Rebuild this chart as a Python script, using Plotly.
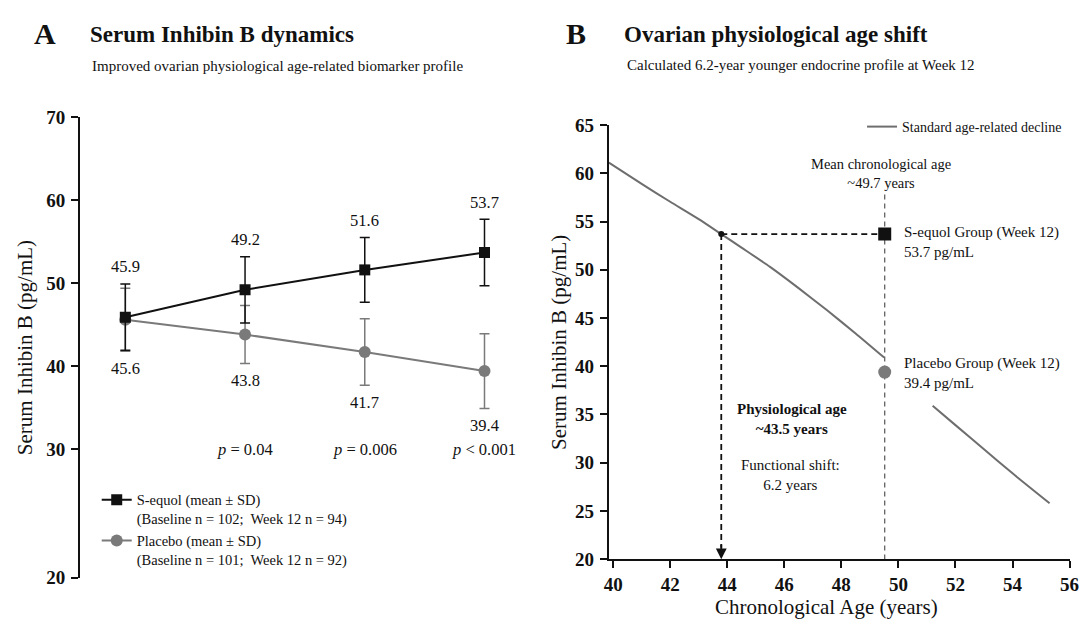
import plotly.graph_objects as go

W, H = 1091, 635
FONT = "Liberation Serif, Times New Roman, serif"

# ---------------- Panel A data ----------------
timepoints = [0, 1, 2, 3]              # Baseline, Week 4, Week 8, Week 12
seq_mean = [45.9, 49.2, 51.6, 53.7]
seq_sd = [4.0, 4.0, 3.9, 4.0]
pla_mean = [45.6, 43.8, 41.7, 39.4]
pla_sd = [3.8, 3.5, 4.0, 4.5]
p_x = [1, 2, 3]
p_labels = ["<i>p</i> = 0.04", "<i>p</i> = 0.006", "<i>p</i> < 0.001"]
p_y = 30
yA_tickvals = [14.49, 30, 40, 50, 60, 70]   # "20" sits on a compressed (broken) axis segment
yA_ticktext = ["20", "30", "40", "50", "60", "70"]

# ---------------- Panel B data ----------------
curve_age = [39.85, 41.0, 42.0, 43.0, 43.79, 44.5, 45.5, 46.5, 47.5, 48.5, 49.5, None,
             51.2, 52.0, 53.0, 54.0, 55.3]
curve_val = [61.1, 58.9, 57.05, 55.25, 53.7, 52.3, 50.3, 48.1, 45.8, 43.4, 40.9, None,
             35.9, 33.9, 31.4, 28.9, 25.8]
chrono_age = 49.52
chrono_line_top = 57.8
phys_age = 43.79
seq_w12 = 53.7
pla_w12 = 39.4
xB_ticks = [40, 42, 44, 46, 48, 50, 52, 54, 56]
yB_ticks = [20, 25, 30, 35, 40, 45, 50, 55, 60, 65]

BLACK = "#111111"
GREY = "#7a7a7a"
CURVE = "#6e6e6e"


def px(x):
    return x / W


def py(y):
    return 1 - y / H


fig = go.Figure()

# Panel A traces (placebo first so S-equol is drawn on top)
fig.add_trace(go.Scatter(
    x=timepoints, y=pla_mean, mode="lines+markers",
    name="Placebo (mean ± SD)<br>(Baseline n = 101;  Week 12 n = 92)",
    line=dict(color=GREY, width=2),
    marker=dict(symbol="circle", size=12, color=GREY),
    error_y=dict(type="data", array=pla_sd, color=GREY, thickness=1.5, width=5),
    xaxis="x", yaxis="y", legend="legend", legendrank=2,
))
fig.add_trace(go.Scatter(
    x=timepoints, y=seq_mean, mode="lines+markers",
    name="S-equol (mean ± SD)<br>(Baseline n = 102;  Week 12 n = 94)",
    line=dict(color=BLACK, width=2),
    marker=dict(symbol="square", size=11, color=BLACK),
    error_y=dict(type="data", array=seq_sd, color=BLACK, thickness=1.5, width=5),
    xaxis="x", yaxis="y", legend="legend", legendrank=1,
))

# Panel B traces
fig.add_trace(go.Scatter(
    x=curve_age, y=curve_val, mode="lines", name="Standard age-related decline",
    line=dict(color=CURVE, width=2, shape="spline", smoothing=0.6), connectgaps=False,
    xaxis="x2", yaxis="y2", legend="legend2",
))
fig.add_trace(go.Scatter(
    x=[phys_age], y=[seq_w12], mode="markers", showlegend=False,
    marker=dict(symbol="circle", size=6, color=BLACK), xaxis="x2", yaxis="y2",
))
fig.add_trace(go.Scatter(
    x=[chrono_age], y=[seq_w12], mode="markers", showlegend=False,
    marker=dict(symbol="square", size=13, color=BLACK), xaxis="x2", yaxis="y2",
))
fig.add_trace(go.Scatter(
    x=[chrono_age], y=[pla_w12], mode="markers", showlegend=False,
    marker=dict(symbol="circle", size=13, color=GREY), xaxis="x2", yaxis="y2",
))

shapes = [
    # horizontal guide from physiological point to S-equol
    dict(type="line", xref="x2", yref="y2", x0=phys_age, x1=chrono_age, y0=seq_w12, y1=seq_w12,
         line=dict(color=BLACK, width=1.8, dash="6px,4px"), layer="below"),
    # vertical guide down to physiological age
    dict(type="line", xref="x2", yref="y2", x0=phys_age, x1=phys_age, y0=seq_w12, y1=21.2,
         line=dict(color=BLACK, width=1.8, dash="6px,4px"), layer="below"),
    # mean chronological age
    dict(type="line", xref="x2", yref="y2", x0=chrono_age, x1=chrono_age, y0=chrono_line_top, y1=20,
         line=dict(color="#555555", width=1.2, dash="5px,4px"), layer="below"),
]

ann = []
# data labels panel A
for x, m, s in zip(timepoints, seq_mean, seq_sd):
    ann.append(dict(x=x, y=m + s, xref="x", yref="y", text=f"{m:.1f}", showarrow=False,
                    yshift=17, font=dict(size=16.5, color=BLACK)))
for x, m, s in zip(timepoints, pla_mean, pla_sd):
    ann.append(dict(x=x, y=m - s, xref="x", yref="y", text=f"{m:.1f}", showarrow=False,
                    yshift=-17, font=dict(size=16.5, color=BLACK)))
for x, t in zip(p_x, p_labels):
    ann.append(dict(x=x, y=p_y, xref="x", yref="y", text=t, showarrow=False,
                    font=dict(size=16.5, color=BLACK)))

# titles
ann += [
    dict(x=px(41), y=py(24), xref="paper", yref="paper", text="<b>A</b>", showarrow=False,
         xanchor="center", yanchor="middle", font=dict(size=30, color=BLACK)),
    dict(x=px(84), y=py(25), xref="paper", yref="paper", text="<b>Serum Inhibin B dynamics</b>",
         showarrow=False, xanchor="left", yanchor="middle", font=dict(size=23, color=BLACK)),
    dict(x=px(86), y=py(58), xref="paper", yref="paper",
         text="Improved ovarian physiological age-related biomarker profile",
         showarrow=False, xanchor="left", yanchor="middle", font=dict(size=15, color=BLACK)),
    dict(x=px(579), y=py(24), xref="paper", yref="paper", text="<b>B</b>", showarrow=False,
         xanchor="center", yanchor="middle", font=dict(size=30, color=BLACK)),
    dict(x=px(626), y=py(25), xref="paper", yref="paper", text="<b>Ovarian physiological age shift</b>",
         showarrow=False, xanchor="left", yanchor="middle", font=dict(size=23, color=BLACK)),
    dict(x=px(629), y=py(57), xref="paper", yref="paper",
         text="Calculated 6.2-year younger endocrine profile at Week 12",
         showarrow=False, xanchor="left", yanchor="middle", font=dict(size=15, color=BLACK)),
    # axis titles
    dict(x=px(21), y=py(349), xref="paper", yref="paper", text="Serum Inhibin B (pg/mL)",
         textangle=-90, showarrow=False, xanchor="center", yanchor="middle",
         font=dict(size=21, color=BLACK)),
    dict(x=px(561), y=py(344), xref="paper", yref="paper", text="Serum Inhibin B (pg/mL)",
         textangle=-90, showarrow=False, xanchor="center", yanchor="middle",
         font=dict(size=21, color=BLACK)),
    dict(x=px(833), y=py(617), xref="paper", yref="paper", text="Chronological Age (years)",
         showarrow=False, xanchor="center", yanchor="middle", font=dict(size=21, color=BLACK)),
    # panel B labels
    dict(x=px(888), y=py(169), xref="paper", yref="paper",
         text="Mean chronological age<br>~49.7 years", showarrow=False,
         xanchor="center", yanchor="middle", font=dict(size=14.5, color=BLACK)),
    dict(x=px(910), y=py(240), xref="paper", yref="paper",
         text="S-equol Group (Week 12)<br>53.7 pg/mL", showarrow=False, align="left",
         xanchor="left", yanchor="middle", font=dict(size=15, color=BLACK)),
    dict(x=px(910), y=py(375), xref="paper", yref="paper",
         text="Placebo Group (Week 12)<br>39.4 pg/mL", showarrow=False, align="left",
         xanchor="left", yanchor="middle", font=dict(size=15, color=BLACK)),
    dict(x=px(798), y=py(423), xref="paper", yref="paper",
         text="<b>Physiological age<br>~43.5 years</b>", showarrow=False,
         xanchor="center", yanchor="middle", font=dict(size=15, color=BLACK)),
    dict(x=px(796), y=py(481), xref="paper", yref="paper",
         text="Functional shift:<br>6.2 years", showarrow=False,
         xanchor="center", yanchor="middle", font=dict(size=15, color=BLACK)),
    # arrow head at physiological age
    dict(x=phys_age, y=20, xref="x2", yref="y2", ax=0, ay=-16, text="", showarrow=True,
         arrowhead=2, arrowsize=1.2, arrowwidth=1.8, arrowcolor=BLACK),
]

tickfont = dict(family=FONT, size=19, color=BLACK, weight="bold")

fig.update_layout(
    width=W, height=H,
    margin=dict(l=0, r=0, t=0, b=0),
    paper_bgcolor="white", plot_bgcolor="white",
    font=dict(family=FONT, color=BLACK),
    xaxis=dict(domain=[px(75.8), px(530)], range=[-0.3806, 3.361], visible=False,
               anchor="y"),
    yaxis=dict(domain=[py(587.8), py(111)], range=[14.4, 70], anchor="x",
               tickvals=yA_tickvals, ticktext=yA_ticktext, tickfont=tickfont,
               showline=True, linecolor=BLACK, linewidth=1.6, ticks="outside",
               ticklen=7, tickwidth=1.6, tickcolor=BLACK, showgrid=False, zeroline=False,
               ticklabelstandoff=2),
    xaxis2=dict(domain=[px(612), px(1079.4)], range=[39.84, 56.0], anchor="y2",
                tickvals=xB_ticks, tickfont=tickfont, showline=True, linecolor=BLACK,
                linewidth=1.8, ticks="outside", ticklen=7, tickwidth=1.6, tickcolor=BLACK,
                showgrid=False, zeroline=False, ticklabelstandoff=0),
    yaxis2=dict(domain=[py(568), py(119)], range=[20, 65], anchor="x2",
                tickvals=yB_ticks, tickfont=tickfont, showline=True, linecolor=BLACK,
                linewidth=1.8, ticks="outside", ticklen=7, tickwidth=1.6, tickcolor=BLACK,
                showgrid=False, zeroline=False, ticklabelstandoff=2),
    legend=dict(x=px(93), y=py(490), xanchor="left", yanchor="top",
                bgcolor="rgba(0,0,0,0)", font=dict(family=FONT, size=14.5, color=BLACK),
                valign="top", traceorder="normal"),
    legend2=dict(x=px(869), y=py(121), xanchor="left", yanchor="middle",
                 bgcolor="rgba(0,0,0,0)", font=dict(family=FONT, size=14, color=BLACK)),
    shapes=shapes,
    annotations=ann,
    showlegend=True,
)

fig.write_html("out.html", config={"displayModeBar": False},
               post_script="document.body.style.margin='0';")
